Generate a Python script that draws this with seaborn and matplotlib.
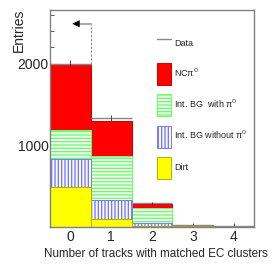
import numpy as np
import matplotlib
matplotlib.use("Agg")
import matplotlib.pyplot as plt
from matplotlib.patches import Patch
from matplotlib.lines import Line2D
import seaborn as sns

# data
n_tracks = [0, 1, 2, 3, 4]
data = [2000, 1335, 285, 18, 8]
nc_pi0 = [806, 438, 53, 3, 0]
bg_with_pi0 = [359, 539, 184, 6, 1]
bg_without_pi0 = [343, 231, 36, 3, 0]
dirt = [488, 92, 3, 3, 0]

labels = ["NCπ$^0$", "Int. BG  with π$^0$", "Int. BG without π$^0$", "Dirt"]

sns.set_style("ticks")
plt.rcParams["font.family"] = ["Liberation Sans", "DejaVu Sans"]

fig = plt.figure(figsize=(2.75, 2.75), dpi=100)
ax = fig.add_axes([0.182, 0.176, 0.742, 0.788])

# stack from the top down: cumulative totals drawn over each other
layers = [nc_pi0, bg_with_pi0, bg_without_pi0, dirt]
styles = [
    dict(color="#ff0000", edgecolor="#cc0000", hatch=None),
    dict(color="white", edgecolor="#66ff66", hatch="-----"),
    dict(color="white", edgecolor="#7878ff", hatch="|||||"),
    dict(color="#ffff00", edgecolor="#b0b000", hatch=None),
]
for i, st in enumerate(styles):
    cum = np.sum(layers[i:], axis=0)
    sns.histplot(x=n_tracks, weights=cum, discrete=True, ax=ax, alpha=1,
                 color=st["color"], edgecolor=st["edgecolor"],
                 hatch=st["hatch"], linewidth=0.7)

# data points: gray bin lines, black error bars
err = np.sqrt(data)
ax.errorbar(n_tracks, data, xerr=0.5, fmt="none", ecolor="#888888", elinewidth=1, capsize=0)
ax.errorbar(n_tracks, data, yerr=err, fmt="none", ecolor="#333333", elinewidth=0.6, capsize=0)

# cut arrow
ax.plot([0.5, 0.5], [2000, 2490], color="#888888", lw=0.8, ls=(0, (2, 1.5)))
ax.plot([0.1, 0.5], [2490, 2490], color="#aaaaaa", lw=1.5)
ax.annotate("", xy=(-0.02, 2490), xytext=(0.15, 2490),
            arrowprops=dict(arrowstyle="-|>", color="black", lw=0.5,
                            mutation_scale=11, fc="black", ec="black"))

ax.set_xlim(-0.5, 4.5)
ax.set_ylim(0, 2660)
ax.set_xticks(n_tracks)
ax.set_yticks([1000, 2000])
ax.set_yticks(np.arange(200, 2660, 200), minor=True)
ax.tick_params(axis="both", which="both", direction="in", labelsize=10, color="#444444")
ax.tick_params(axis="x", length=3, pad=2.5)
ax.tick_params(axis="y", which="major", length=6, pad=1)
ax.tick_params(axis="y", which="minor", length=3)
for s in ax.spines.values():
    s.set_color("#808080")
    s.set_linewidth(1)
    s.set_visible(True)

ax.set_xlabel("Number of tracks with matched EC clusters", fontsize=8.4)
ax.xaxis.set_label_coords(0.517, -0.1)
ax.set_ylabel("Entries", fontsize=10)
ax.yaxis.set_label_coords(-0.12, 0.905)

handles = [Line2D([], [], color="#888888", lw=1)]
for st in styles:
    handles.append(Patch(facecolor=st["color"], edgecolor=st["edgecolor"],
                         hatch=st["hatch"], linewidth=0.7))
ax.legend(handles, ["Data"] + labels, loc="upper left", bbox_to_anchor=(0.505, 0.915),
          frameon=False, fontsize=6.5, handlelength=1.55, handleheight=3.4,
          labelspacing=1.0, handletextpad=0.4, borderaxespad=0)

fig.savefig("out.png", dpi=100)
